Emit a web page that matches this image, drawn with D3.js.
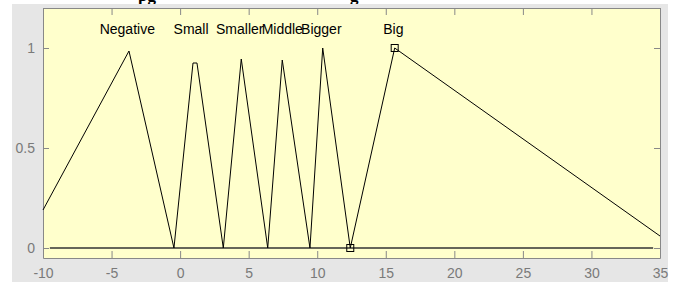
<!DOCTYPE html>
<html>
<head>
<meta charset="utf-8">
<script src="https://cdn.jsdelivr.net/npm/d3@7"></script>
<style>
  body { margin: 0; background: #fff; }
  svg { display: block; }
</style>
</head>
<body>
<svg width="677" height="282"></svg>
<script>
// membership curve vertices (x, y)
var curveX = [-10, -3.73, -0.45, 0.94, 1.23, 3.15, 4.46, 6.39, 7.45, 9.47, 10.4, 12.41, 15.65, 35];
var curveY = [0.19, 0.985, 0, 0.925, 0.925, 0, 0.945, 0, 0.94, 0, 1.0, 0, 1.0, 0.06];
var markX = [12.41, 15.65];
var markY = [0, 1.0];
var labels = ["Negative", "Small", "Smaller", "Middle", "Bigger", "Big"];
var labelX = [-3.85, 0.8, 4.35, 7.45, 10.3, 15.55];
var labelY = 1.07;
var xTicks = [-10, -5, 0, 5, 10, 15, 20, 25, 30, 35];
var yTicks = [0, 0.5, 1];

var svg = d3.select("svg"),
    pLeft = 43, pRight = 660, pTop = 8, pBottom = 258;

var x = d3.scaleLinear().domain([-10, 35]).range([pLeft, pRight]);
var y = d3.scaleLinear().domain([-0.05, 1.2]).range([pBottom, pTop]);

// clipped title remnant above the figure
svg.append("text").attr("x", 138).attr("y", 1).attr("font-family", "Liberation Serif").attr("font-weight", "bold")
    .attr("font-size", 17).attr("fill", "#000").text("pg");
svg.append("text").attr("x", 350).attr("y", 1).attr("font-family", "Liberation Serif").attr("font-weight", "bold")
    .attr("font-size", 17).attr("fill", "#000").text("g");

// figure background
svg.append("rect").attr("x", 12).attr("y", 4).attr("width", 656).attr("height", 278).attr("fill", "#e6e6e6");

svg.append("rect").attr("x", pLeft).attr("y", pTop).attr("width", pRight - pLeft).attr("height", pBottom - pTop)
    .attr("fill", "#ffffcc");

var font = "Liberation Sans, Arial, sans-serif";
var fmt = d => String(d);

// axes with inward ticks
var gx = svg.append("g").attr("transform", "translate(0," + pBottom + ")")
    .call(d3.axisBottom(x).tickValues(xTicks).tickFormat(fmt).tickSizeInner(-7).tickSizeOuter(0));
var gxt = svg.append("g").attr("transform", "translate(0," + pTop + ")")
    .call(d3.axisTop(x).tickValues(xTicks).tickSizeInner(-7).tickSizeOuter(0).tickFormat(""));
var gy = svg.append("g").attr("transform", "translate(" + pLeft + ",0)")
    .call(d3.axisLeft(y).tickValues(yTicks).tickFormat(fmt).tickSizeInner(-6).tickSizeOuter(0));
var gyr = svg.append("g").attr("transform", "translate(" + pRight + ",0)")
    .call(d3.axisRight(y).tickValues(yTicks).tickSizeInner(-6).tickSizeOuter(0).tickFormat(""));

[gx, gxt, gy, gyr].forEach(function (g) {
    g.selectAll("path, line").attr("stroke", "#888");
    g.selectAll("text").attr("fill", "#7a7a7a").attr("font-family", font).attr("font-size", 14);
});
gx.selectAll("text").attr("y", 15).attr("dy", "0.35em");
gy.selectAll("text").attr("x", -8);

// zero line
svg.append("line").attr("x1", x(-9.5)).attr("x2", x(34.5)).attr("y1", y(0)).attr("y2", y(0))
    .attr("stroke", "#333").attr("stroke-width", 1.6);

var pts = curveX.map((d, i) => [d, curveY[i]]);
var line = d3.line().x(d => x(d[0])).y(d => y(d[1]));
svg.append("path").attr("d", line(pts)).attr("fill", "none").attr("stroke", "#000").attr("stroke-width", 1);

svg.selectAll(".mark").data(markX).enter().append("rect")
    .attr("x", d => x(d) - 3.5).attr("y", (d, i) => y(markY[i]) - 3.5)
    .attr("width", 7).attr("height", 7).attr("fill", "none").attr("stroke", "#000");

svg.selectAll(".lab").data(labels).enter().append("text")
    .attr("x", (d, i) => x(labelX[i])).attr("y", y(labelY))
    .attr("text-anchor", "middle").attr("font-family", font).attr("font-size", 14)
    .attr("fill", "#000").text(d => d);
</script>
</body>
</html>
